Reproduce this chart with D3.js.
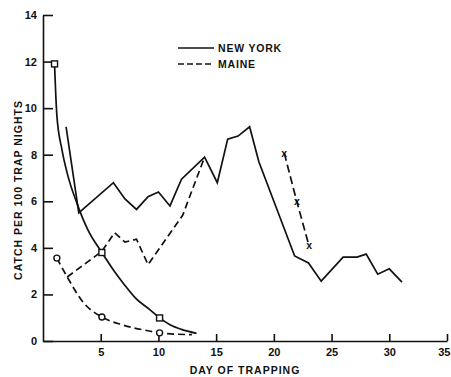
<!DOCTYPE html>
<html>
<head>
<meta charset="utf-8">
<script src="https://cdn.jsdelivr.net/npm/d3@7"></script>
<style>
  body { margin: 0; background: #fff; }
  text { font-family: "Liberation Sans", Arial, sans-serif; font-weight: bold; fill: #111; }
</style>
</head>
<body>
<svg id="chart" width="451" height="377"></svg>
<script>
// values
var ny_decay_days = [1, 1.2, 1.65, 2.1, 2.95, 3.9, 5.1, 6.1, 7, 8, 9.3, 10.1, 11, 12, 13.3]
var ny_decay_vals = [11.9, 9.7, 8.2, 7.2, 5.9, 4.76, 3.8, 3.05, 2.45, 1.85, 1.33, 0.99, 0.7, 0.5, 0.33]
var ny_square_days = [1, 5.1, 10.1]
var ny_square_vals = [11.9, 3.8, 0.99]

var me_decay_days = [1.2, 2.1, 3.5, 5.1, 6.9, 9.3, 10.1, 12.9]
var me_decay_vals = [3.56, 2.75, 1.65, 1.03, 0.69, 0.42, 0.35, 0.27]
var me_circle_days = [1.2, 5.1, 10.1]
var me_circle_vals = [3.56, 1.03, 0.35]

var ny_days = [2, 3.1, 6.1, 7.1, 8.1, 9.1, 10, 11, 12, 14, 15.1, 16, 16.9, 17.9, 18.7, 21.8, 23, 24.1, 26, 27.2, 28, 29, 30, 31.1]
var ny_vals = [9.2, 5.5, 6.8, 6.1, 5.65, 6.2, 6.4, 5.8, 6.95, 7.9, 6.8, 8.67, 8.8, 9.2, 7.7, 3.65, 3.35, 2.57, 3.6, 3.6, 3.73, 2.87, 3.1, 2.53]

var me_days = [2.1, 5.1, 6.2, 7.1, 8.1, 9.1, 12.1, 14]
var me_vals = [2.75, 3.85, 4.65, 4.25, 4.37, 3.28, 5.4, 7.9]

var me_late_days = [20.9, 22, 23.05]
var me_late_vals = [8.07, 5.97, 4.08]

var x_ticks = [5, 10, 15, 20, 25, 30, 35]
var y_ticks = [0, 2, 4, 6, 8, 10, 12, 14]
var legend_labels = ['NEW YORK', 'MAINE']

var svg = d3.select('#chart')
var x = d3.scaleLinear().domain([0, 35]).range([43, 447])
var y = d3.scaleLinear().domain([0, 14]).range([341, 15])

var zip = function(a, b) { return a.map(function(d, i) { return [d, b[i]] }) }
var line = d3.line().x(function(d) { return x(d[0]) }).y(function(d) { return y(d[1]) })
var smooth = d3.line().curve(d3.curveMonotoneX)
                .x(function(d) { return x(d[0]) }).y(function(d) { return y(d[1]) })

// axes - ticks point inward like the original
var xaxis = svg.append('g')
    .attr('transform', 'translate(0,' + y(0) + ')')
    .call(d3.axisBottom(x).tickValues(x_ticks).tickSizeInner(-7).tickSizeOuter(0).tickPadding(7))
var yaxis = svg.append('g')
    .attr('transform', 'translate(' + x(0) + ',0)')
    .call(d3.axisLeft(y).tickValues(y_ticks).tickSizeInner(-10).tickSizeOuter(0).tickPadding(6))
svg.selectAll('.domain, .tick line').attr('stroke', '#111').attr('stroke-width', 1.6)
svg.selectAll('.tick text').style('font-size', '11px').style('font-family', '"Liberation Sans", Arial, sans-serif').style('font-weight', 'bold').attr('fill', '#111')
// last label sits on the right edge, pull it in so it stays inside the page
xaxis.selectAll('.tick text').filter(function(d) { return d == 35 }).attr('text-anchor', 'end').attr('dx', '3')

svg.append('text')
    .attr('x', 245).attr('y', 374)
    .attr('text-anchor', 'middle')
    .style('font-size', '10.5px').style('letter-spacing', '1px')
    .text('DAY OF TRAPPING')
svg.append('text')
    .attr('transform', 'translate(22,190) rotate(-90)')
    .attr('text-anchor', 'middle')
    .style('font-size', '10.5px').style('letter-spacing', '1px')
    .text('CATCH PER 100 TRAP NIGHTS')

// series
var solid = { stroke: '#111', 'stroke-width': 1.7, fill: 'none' }
var add_path = function(d, gen, dash) {
    var p = svg.append('path').attr('d', gen(d))
    for (var k in solid) p.attr(k, solid[k])
    if (dash) p.attr('stroke-dasharray', dash)
    return p
}
add_path(zip(ny_decay_days, ny_decay_vals), smooth)
add_path(zip(me_decay_days, me_decay_vals), smooth, '7,4')
add_path(zip(ny_days, ny_vals), line)
add_path(zip(me_days, me_vals), line, '7,4')
add_path(zip(me_late_days, me_late_vals), line, '8,4')

// markers
svg.selectAll('rect.sq')
    .data(zip(ny_square_days, ny_square_vals))
    .enter().append('rect')
        .attr('class', 'sq')
        .attr('x', function(d) { return x(d[0]) - 3 })
        .attr('y', function(d) { return y(d[1]) - 3 })
        .attr('width', 6).attr('height', 6)
        .attr('fill', '#fff').attr('stroke', '#111').attr('stroke-width', 1.4)
svg.selectAll('circle.ci')
    .data(zip(me_circle_days, me_circle_vals))
    .enter().append('circle')
        .attr('class', 'ci')
        .attr('cx', function(d) { return x(d[0]) })
        .attr('cy', function(d) { return y(d[1]) })
        .attr('r', 3)
        .attr('fill', '#fff').attr('stroke', '#111').attr('stroke-width', 1.4)
svg.selectAll('text.xm')
    .data(zip(me_late_days, me_late_vals))
    .enter().append('text')
        .attr('class', 'xm')
        .attr('x', function(d) { return x(d[0]) })
        .attr('y', function(d) { return y(d[1]) + 3.5 })
        .attr('text-anchor', 'middle')
        .style('font-size', '10.5px')
        .text('x')

// legend
var legend = svg.append('g').attr('transform', 'translate(178,48)')
legend_labels.forEach(function(lab, i) {
    var g = legend.append('g').attr('transform', 'translate(0,' + (i * 16) + ')')
    g.append('line').attr('x1', 0).attr('x2', 36).attr('y1', 0).attr('y2', 0)
        .attr('stroke', '#111').attr('stroke-width', 1.6)
        .attr('stroke-dasharray', i == 1 ? '6,3' : null)
    g.append('text').attr('x', 40).attr('y', 4)
        .style('font-size', '10.5px').style('letter-spacing', '0.8px')
        .text(lab)
})
</script>
</body>
</html>
